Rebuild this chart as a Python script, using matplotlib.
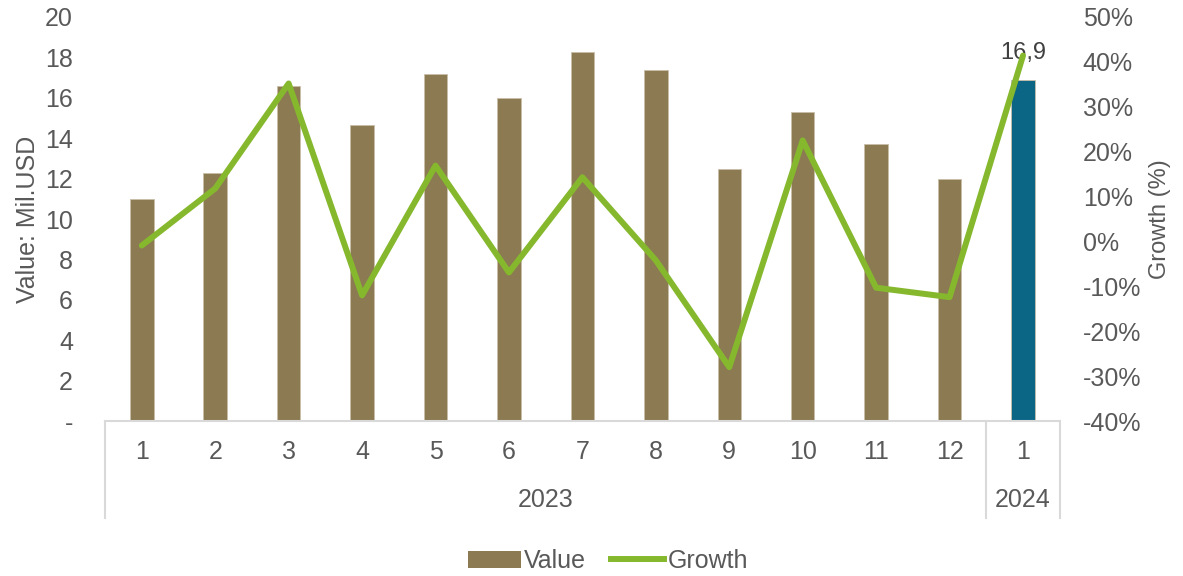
import matplotlib.pyplot as plt
from matplotlib.lines import Line2D
from matplotlib.patches import Patch
import matplotlib.transforms as mtransforms

plt.rcParams['font.family'] = ['Liberation Sans', 'DejaVu Sans']

months = ["1", "2", "3", "4", "5", "6", "7", "8", "9", "10", "11", "12", "1"]
years = ["2023"] * 12 + ["2024"]
values = [11.0, 12.3, 16.6, 14.65, 17.2, 16.0, 18.25, 17.4, 12.5, 15.3, 13.7, 12.0, 16.9]
growth = [-0.9, 11.8, 35.2, -12.0, 16.9, -6.9, 14.3, -4.2, -28.0, 22.5, -10.3, -12.4, 41.4]

BAR = "#8B7A52"
BAR_LAST = "#0B6585"
LINE = "#86B82E"
TXT = "#595959"
AXC = "#D9D9D9"
FS = 18

fig = plt.figure(figsize=(11.83, 5.76), dpi=100)
ax = fig.add_axes([0.0888, 0.269, 0.807, 0.7015])
x = list(range(len(values)))
colors = [BAR] * (len(values) - 1) + [BAR_LAST]
widths = [0.32] * (len(values) - 1) + [0.33]
ax.bar(x, values, width=widths, color=colors, edgecolor="#C9BFA8", linewidth=0.6, zorder=2)
ax.set_xlim(-0.5, len(values) - 0.5)
ax.set_ylim(0, 20)
ax.set_yticks(range(0, 21, 2))
ax.set_yticklabels(["-"] + [str(v) for v in range(2, 21, 2)])
ax.set_xticks([])
for s in ["top", "right", "left"]:
    ax.spines[s].set_visible(False)
ax.spines["bottom"].set_color(AXC)
ax.spines["bottom"].set_linewidth(1.5)
ax.tick_params(axis="y", length=0, pad=23, labelsize=FS, labelcolor=TXT)
ax.set_ylabel("Value: Mil.USD", fontsize=FS, color=TXT, labelpad=4)

# data label on the last bar
ax.text(x[-1], values[-1] + 1.34, f"{values[-1]:.1f}".replace(".", ","),
        ha="center", va="center", fontsize=17, color="#404040", zorder=5)

ax2 = ax.twinx()
ax2.plot(x, growth, color=LINE, linewidth=4.3, solid_joinstyle="round", solid_capstyle="round")
ax2.set_ylim(-40, 50)
ax2.set_yticks(range(-40, 51, 10))
ax2.set_yticklabels([f"{v}%" for v in range(-40, 51, 10)])
for s in ["top", "right", "left", "bottom"]:
    ax2.spines[s].set_visible(False)
ax2.tick_params(axis="y", length=0, pad=16.5, labelsize=FS, labelcolor=TXT)
ax2.set_ylabel("Growth (%)", fontsize=17, color=TXT, labelpad=6)

# two-level category labels (month / year)
trans = mtransforms.blended_transform_factory(ax.transData, fig.transFigure)
for xi, m in zip(x, months):
    ax.text(xi, 1 - 452 / 576, m, transform=trans, ha="center", va="center",
            fontsize=FS, color=TXT)
year_groups = {}
for xi, yr in zip(x, years):
    year_groups.setdefault(yr, []).append(xi)
for yr, xs in year_groups.items():
    ax.text((xs[0] + xs[-1]) / 2, 1 - 500 / 576, yr, transform=trans, ha="center",
            va="center", fontsize=FS, color=TXT)
bounds = [-0.5, 11.5, len(values) - 0.5]
for b in bounds:
    fig.add_artist(Line2D([b, b], [0.269, 1 - 518 / 576], transform=trans,
                          color=AXC, linewidth=1.5))

handles = [Patch(facecolor=BAR), Line2D([0], [0], color=LINE, linewidth=4.3)]
fig.legend(handles, ["Value", "Growth"], loc="center", bbox_to_anchor=(0.514, 1 - 561 / 576),
           ncol=2, frameon=False, fontsize=FS, labelcolor=TXT, handlelength=2.1,
           handletextpad=0.15, columnspacing=1.0)

fig.savefig("out.png", dpi=100)
